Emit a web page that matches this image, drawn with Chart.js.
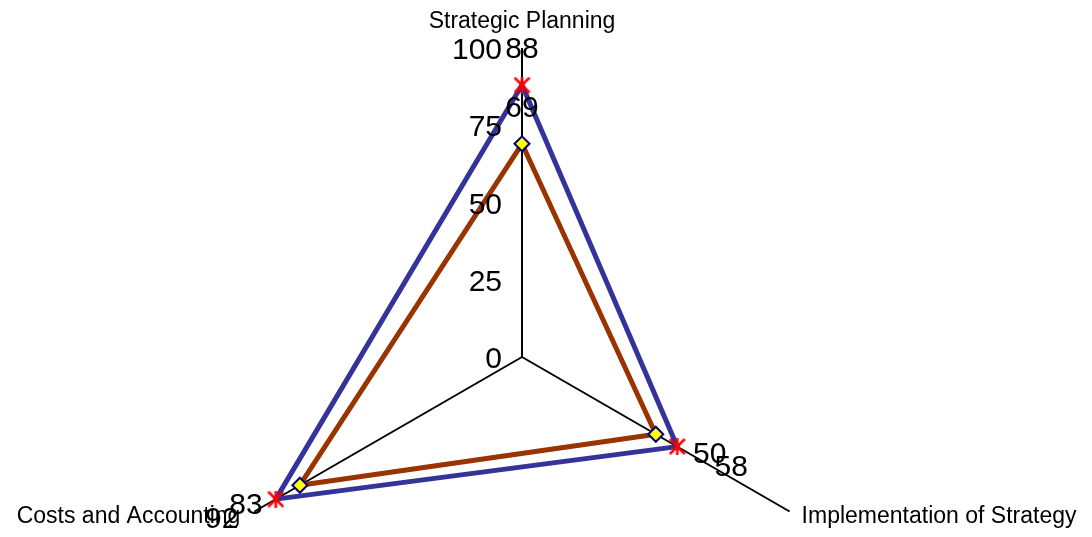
<!DOCTYPE html>
<html>
<head>
<meta charset="utf-8">
<script src="https://cdn.jsdelivr.net/npm/chart.js@4/dist/chart.umd.min.js"></script>
<style>
  html, body { margin: 0; padding: 0; background: #fff; }
  #wrap { width: 1092px; height: 537px; }
</style>
</head>
<body>
<div id="wrap"><canvas id="radar" width="1092" height="537"></canvas></div>
<script>
var categories = ['Strategic Planning', 'Implementation of Strategy', 'Costs and Accounting'];
var outerValues = [88, 58, 92];
var innerValues = [69, 50, 83];
var axisMin = 0;
var axisMax = 100;
var axisStep = 25;

var FONT = '"Liberation Sans", Arial, Helvetica, sans-serif';

// excel style "star" marker: an x with a vertical stroke
function asteriskMarker(size, color) {
  var c = document.createElement('canvas');
  c.width = size;
  c.height = size;
  var g = c.getContext('2d');
  g.strokeStyle = color;
  g.lineWidth = 2.5;
  g.beginPath();
  g.moveTo(1, 1); g.lineTo(size - 1, size - 1);
  g.moveTo(size - 1, 1); g.lineTo(1, size - 1);
  g.moveTo(size / 2, 0); g.lineTo(size / 2, size);
  g.stroke();
  return c;
}

var textPlugin = {
  id: 'excelText',
  afterDraw: function (chart) {
    var ctx = chart.ctx;
    var r = chart.scales.r;
    ctx.save();
    ctx.fillStyle = '#000';

    // value axis ticks, to the left of the first spoke
    ctx.font = '30px ' + FONT;
    ctx.textAlign = 'right';
    ctx.textBaseline = 'alphabetic';
    r.ticks.forEach(function (t) {
      var p = r.getPointPositionForValue(0, t.value);
      ctx.fillText(t.label, p.x - 20, p.y + 11);
    });

    // category names at the spoke ends
    ctx.font = '23px ' + FONT;
    chart.data.labels.forEach(function (label, i) {
      var end = r.getPointPositionForValue(i, r.max);
      var dx = end.x - r.xCenter;
      if (Math.abs(dx) < 1) {
        ctx.textAlign = 'center';
        ctx.fillText(label, end.x, end.y - 20);
      } else if (dx > 0) {
        ctx.textAlign = 'left';
        ctx.fillText(label, end.x + 12, end.y + 11);
      } else {
        ctx.textAlign = 'right';
        ctx.fillText(label, end.x - 14, end.y + 11);
      }
    });

    // data labels
    var shift = [[0, -38], [54, 18], [-54, 18]];
    ctx.font = '30px ' + FONT;
    ctx.textAlign = 'center';
    chart.data.datasets.forEach(function (ds, di) {
      var meta = chart.getDatasetMeta(di);
      meta.data.forEach(function (pt, i) {
        var s = shift[i];
        ctx.fillText(String(ds.data[i]), pt.x + s[0], pt.y + s[1] + 11);
      });
    });
    ctx.restore();
  }
};

new Chart(document.getElementById('radar'), {
  type: 'radar',
  data: {
    labels: categories,
    datasets: [{
      label: 'Series 1',
      data: outerValues,
      borderColor: '#333399',
      borderWidth: 5,
      borderJoinStyle: 'round',
      fill: false,
      pointStyle: asteriskMarker(17, '#ff0000'),
      pointRadius: 8,
      pointHoverRadius: 8,
    }, {
      label: 'Series 2',
      data: innerValues,
      borderColor: '#993300',
      borderWidth: 5,
      borderJoinStyle: 'round',
      fill: false,
      pointStyle: 'rectRot',
      pointRadius: 7.5,
      pointHoverRadius: 7.5,
      pointBackgroundColor: '#ffff00',
      pointBorderColor: '#000080',
      pointBorderWidth: 2,
    }],
  },
  options: {
    responsive: false,
    animation: false,
    devicePixelRatio: 1,
    events: [],
    plugins: {
      legend: { display: false },
      tooltip: { enabled: false },
    },
    scales: {
      r: {
        min: axisMin,
        max: axisMax,
        ticks: { stepSize: axisStep, display: false },
        grid: { display: false },
        angleLines: { display: true, color: '#000', lineWidth: 2 },
        pointLabels: { display: false },
        afterFit: function (scale) {
          scale.xCenter = 522;
          scale.yCenter = 357;
          scale.drawingArea = 309;
        },
      },
    },
  },
  plugins: [textPlugin],
});
</script>
</body>
</html>
